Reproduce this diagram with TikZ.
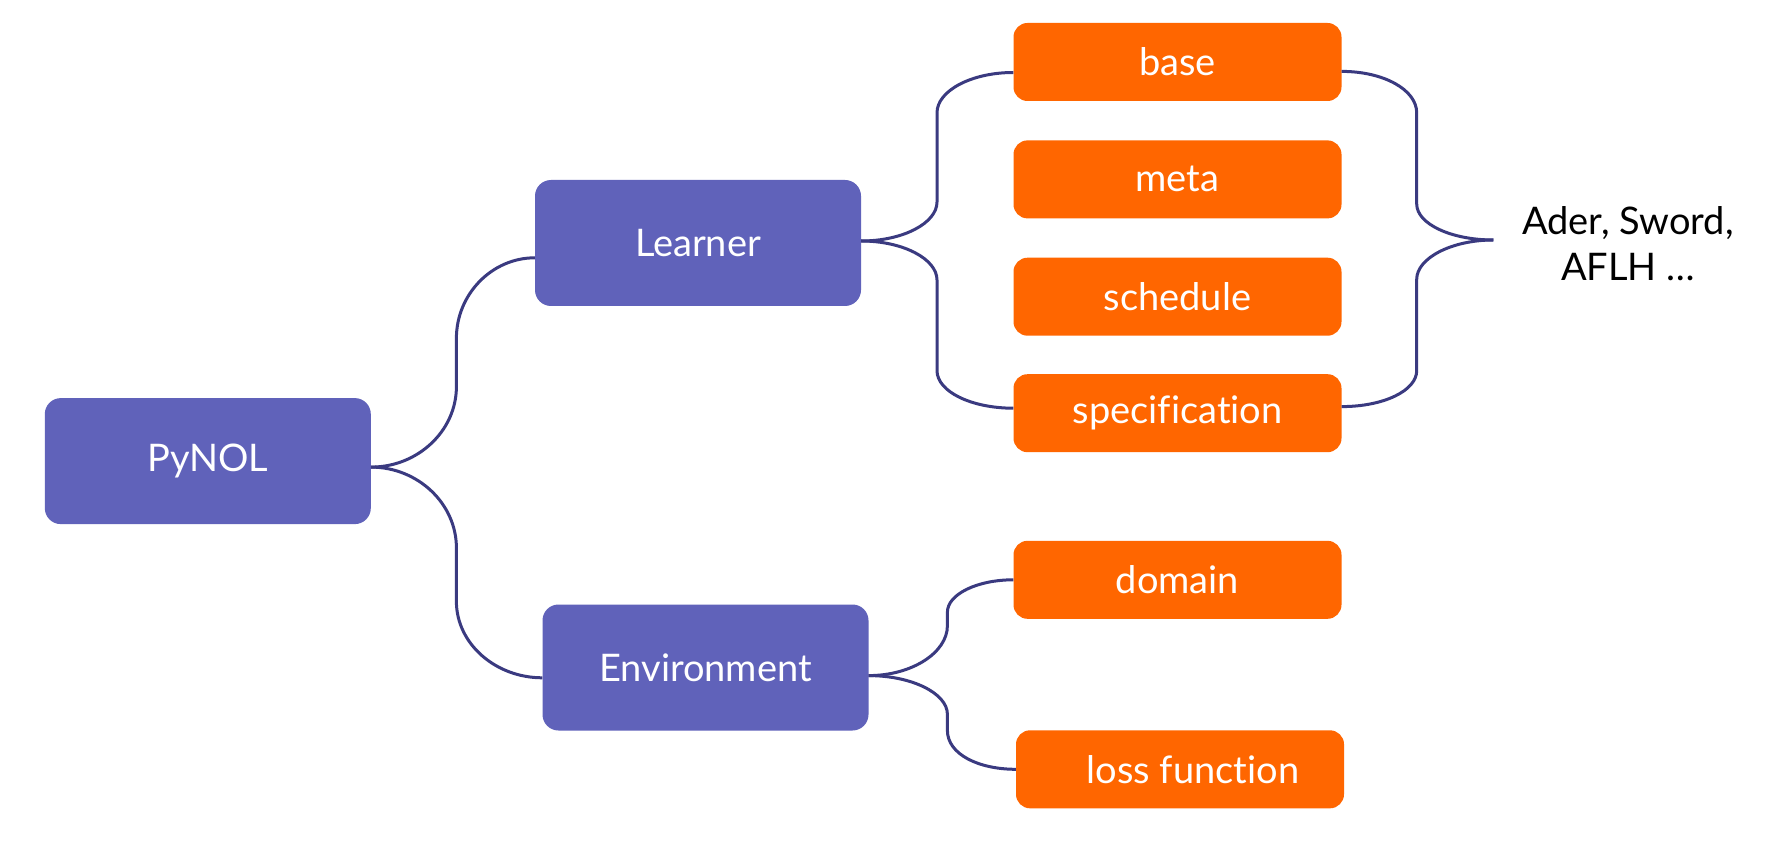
\documentclass[tikz,border=0pt]{standalone}
\usepackage{fontspec}
\setmainfont{Lato}[Ligatures=NoCommon]
\definecolor{boxpurple}{RGB}{96,98,186}
\definecolor{boxorange}{RGB}{255,102,0}
\definecolor{linenavy}{RGB}{58,58,128}
\tikzset{
  mainbox/.style={fill=boxpurple, draw=none, rounded corners=16pt, minimum width=326pt, minimum height=126pt, inner sep=0pt, text=white, font=\fontsize{38}{46}\selectfont},
  subbox/.style={fill=boxorange, draw=none, rounded corners=14pt, minimum width=328pt, minimum height=78pt, inner sep=0pt, text=white, font=\fontsize{38}{46}\selectfont},
  conn/.style={draw=linenavy, line width=3pt},
  plainlabel/.style={text=black, align=center, font=\fontsize{38}{46}\selectfont, inner sep=0pt}
}
\begin{document}
\begin{tikzpicture}[x=1pt,y=-1pt]
\useasboundingbox[fill=white] (0,0) rectangle (1783,842);
% main boxes
\node[mainbox] (pynol) at (207.8,461.1) {PyNOL};
\node[mainbox] (learner) at (698,243) {Learner};
\node[mainbox] (env) at (705.5,667.5) {Environment};
% sub boxes
\node[subbox] (base) at (1177.5,62) {base};
\node[subbox] (meta) at (1177.5,179.4) {meta};
\node[subbox] (sched) at (1177.5,296.7) {schedule};
\node[subbox] (spec) at (1177.5,413.2) {specification};
\node[subbox] (domain) at (1177.5,579.8) {domain};
\node[subbox] (loss) at (1180,769.3) {\hspace*{26pt}loss function};
% label
\node[plainlabel] (algs) at (1628,244) {Ader, Sword,\\AFLH \ldots};
% spine coordinates
\coordinate (pA) at (456.4,386.7);
\coordinate (pB) at (456.4,338.3);
\coordinate (pC) at (456.4,547.8);
\coordinate (pD) at (456.4,601.5);
\coordinate (lF) at (937,202);
\coordinate (lG) at (937,112.8);
\coordinate (lH) at (937,280);
\coordinate (lI) at (937,370.6);
\coordinate (rJ) at (1416.7,112.8);
\coordinate (rK) at (1416.7,204);
\coordinate (tip) at (1493.3,240);
\coordinate (rM) at (1416.7,279.3);
\coordinate (rN) at (1416.7,370.6);
\coordinate (eO) at (947.4,625.7);
\coordinate (eQ) at (947.4,612.2);
\coordinate (eR) at (947.4,714.3);
\coordinate (eS) at (947.4,730.4);
% PyNOL connectors
\draw[conn] ([yshift=-6pt]pynol.east) .. controls +(47,0) and +(0,44) .. (pA) -- (pB) .. controls +(0,-44) and +(-43,0) .. ([yshift=-14.8pt]learner.west);
\draw[conn] ([yshift=-6pt]pynol.east) .. controls +(47,0) and +(0,-44) .. (pC) -- (pD) .. controls +(0,42) and +(-47,0) .. ([yshift=-10.3pt]env.west);
% Learner brace
\draw[conn] ([yshift=2pt]learner.east) .. controls +(42,0) and +(0,21) .. (lF) -- (lG) .. controls +(0,-22) and +(-42,0) .. ([yshift=-10.5pt]base.west);
\draw[conn] ([yshift=2pt]learner.east) .. controls +(42,0) and +(0,-21) .. (lH) -- (lI) .. controls +(0,21) and +(-42,0) .. ([yshift=5pt]spec.west);
% right brace
\draw[conn] ([yshift=-9.4pt]base.east) .. controls +(42,0) and +(0,-23) .. (rJ) -- (rK) .. controls +(0,20) and +(-42,0) .. (tip);
\draw[conn] (tip) .. controls +(-42,0) and +(0,-21) .. (rM) -- (rN) .. controls +(0,20) and +(42,0) .. ([yshift=6.6pt]spec.east);
% Environment brace
\draw[conn] ([yshift=-8.1pt]env.east) .. controls +(43,0) and +(0,27) .. (eO) -- (eQ) .. controls +(0,-18) and +(-36,0) .. (domain.west);
\draw[conn] ([yshift=-8.1pt]env.east) .. controls +(43,0) and +(0,-21) .. (eR) -- (eS) .. controls +(0,24) and +(-37,0) .. (loss.west);
\end{tikzpicture}
\end{document}
